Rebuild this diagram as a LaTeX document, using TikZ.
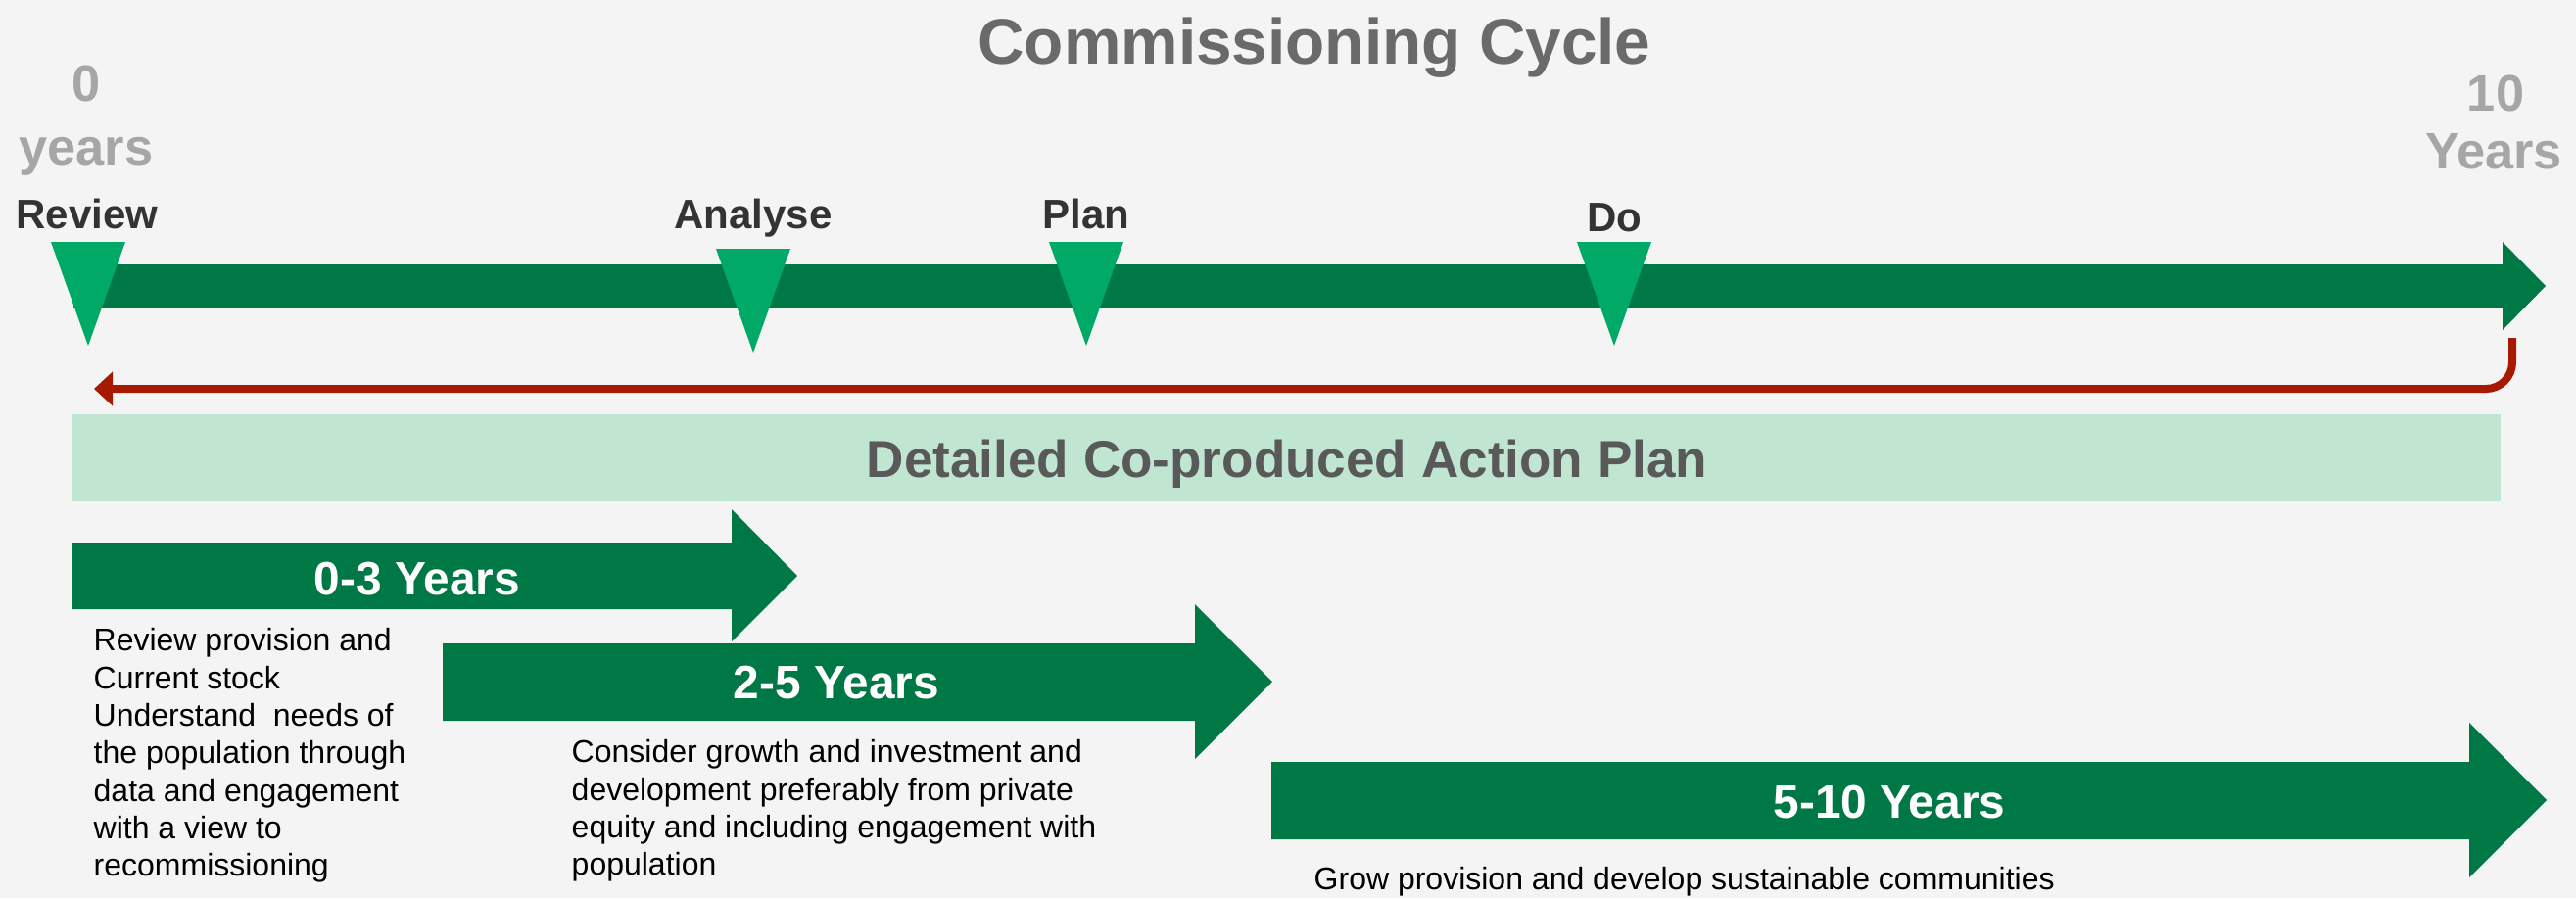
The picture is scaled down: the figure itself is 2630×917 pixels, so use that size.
\documentclass[tikz,border=0pt]{standalone}
\usepackage{fontspec}
\setmainfont{Liberation Sans}
\usepackage{tikz}
\usetikzlibrary{arrows.meta}
\usetikzlibrary{positioning}

\definecolor{bgGray}{HTML}{F4F4F4}
\definecolor{barGreen}{HTML}{007845}
\definecolor{markGreen}{HTML}{00AA66}
\definecolor{bandGreen}{HTML}{C0E6D2}
\definecolor{titleGray}{HTML}{6A6A6A}
\definecolor{yearGray}{HTML}{A6A6A6}
\definecolor{phaseGray}{HTML}{333333}
\definecolor{bandText}{HTML}{595959}
\definecolor{loopRed}{HTML}{A51A00}

\tikzset{
  cycletitle/.style={font=\bfseries\fontsize{18.7}{22}\selectfont, text=titleGray, inner sep=0pt, anchor=base},
  yearlabel/.style={font=\bfseries\fontsize{14.9}{18}\selectfont, text=yearGray, inner sep=0pt, anchor=base},
  phaselabel/.style={font=\bfseries\fontsize{11.95}{14}\selectfont, text=phaseGray, inner sep=0pt, anchor=base},
  bandtext/.style={font=\bfseries\fontsize{15.1}{18}\selectfont, text=bandText, inner sep=0pt, anchor=base},
  arrowlabel/.style={font=\bfseries\fontsize{13.6}{16}\selectfont, text=white, inner sep=0pt, anchor=base},
  bodytext/.style={font=\fontsize{9.1}{10.9}\selectfont, text=black, align=left, inner sep=0pt, anchor=north west},
  loopback/.style={draw=loopRed, line width=0.08cm, rounded corners=0.27cm, -{Triangle[length=0.19cm, width=0.34cm]}}
}

\begin{document}
\begin{tikzpicture}[x=0.01cm, y=-0.01cm]
  % Background
  \fill[bgGray] (0,0) rectangle (2630,917);

  % Title
  \node[cycletitle] (title) at (1342,65) {Commissioning Cycle};

  % Start and end of the time line
  \node[yearlabel] (zero) at (88,103) {0};
  \node[yearlabel] (zeroyears) at (88,168) {years};
  \node[yearlabel] (ten) at (2548,113) {10};
  \node[yearlabel] (tenyears) at (2546,172) {Years};

  % Main time line arrow
  \fill[barGreen] (75,270) -- (2555,270) -- (2555,247) -- (2599,292) -- (2555,337) -- (2555,314) -- (75,314) -- cycle;

  % Phase markers
  \node[phaselabel] (review) at (89,233) {Review};
  \node[phaselabel] (analyse) at (769,233) {Analyse};
  \node[phaselabel] (plan) at (1109,233) {Plan};
  \node[phaselabel] (do) at (1648,236) {Do};
  \foreach \x/\y in {90/247, 769/254, 1109/247, 1648/247}
    \fill[markGreen] ({\x-38},\y) -- ({\x+38},\y) -- (\x,{\y+106}) -- cycle;

  % Loop back to the start
  \coordinate (loopstart) at (2565,345);
  \coordinate (loopend) at (96,397);
  \draw[loopback] (loopstart) |- (loopend);

  % Action plan band
  \fill[bandGreen] (74,423) rectangle (2553,512);
  \node[bandtext] (actionplan) at (1314,487) {Detailed Co-produced Action Plan};

  % Phase arrows
  \fill[barGreen] (74,554) -- (747,554) -- (747,520) -- (814,588) -- (747,655) -- (747,622) -- (74,622) -- cycle;
  \node[arrowlabel] (early) at (426,607) {0-3 Years};
  \fill[barGreen] (452,657) -- (1220,657) -- (1220,617) -- (1299,696) -- (1220,775) -- (1220,736) -- (452,736) -- cycle;
  \node[arrowlabel] (middle) at (854,713) {2-5 Years};
  \fill[barGreen] (1298,778) -- (2521,778) -- (2521,738) -- (2600,817) -- (2521,896) -- (2521,857) -- (1298,857) -- cycle;
  \node[arrowlabel] (late) at (1929,835) {5-10 Years};

  % Descriptions
  \node[bodytext] (earlytext) at (95,641) {Review provision and\\Current stock\\Understand\ \ needs of\\the population through\\data and engagement\\with a view to\\recommissioning};
  \node[bodytext] (middletext) at (583,755) {Consider growth and investment and\\development preferably from private\\equity and including engagement with\\population};
  \node[bodytext, anchor=base west] (latetext) at (1341,908) {Grow provision and develop sustainable communities};
\end{tikzpicture}
\end{document}
